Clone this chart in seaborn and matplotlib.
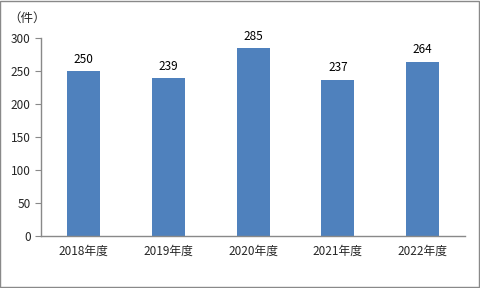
import matplotlib
matplotlib.use("Agg")
import matplotlib.pyplot as plt
import seaborn as sns
import pandas as pd
import numpy as np

categories = ["2018年度", "2019年度", "2020年度", "2021年度", "2022年度"]
values = [250, 239, 285, 237, 264]
yticks = [0, 50, 100, 150, 200, 250, 300]

sns.set_style("white")
plt.rcParams['font.family'] = ['Noto Sans CJK JP', 'DejaVu Sans']

df = pd.DataFrame({"cat": categories, "val": values})
fig = plt.figure(figsize=(4.8, 2.88), dpi=100)
ax = fig.add_axes([0.0854, 0.1806, 0.969 - 0.0854, 0.868 - 0.1806])
sns.barplot(data=df, x="cat", y="val", order=categories, color="#4F81BD",
            width=0.39, saturation=1, linewidth=0, ax=ax)
ax.set_xlim(-0.5, len(categories) - 0.5)
ax.set_ylim(0, 300)
ax.set_yticks(yticks)
ax.set_xlabel("")
ax.set_ylabel("")
for i, v in enumerate(values):
    ax.text(i, v + 8, str(v), ha="center", va="bottom", fontsize=8.5, color="black")
for s in ["top", "right"]:
    ax.spines[s].set_visible(False)
for s in ["left", "bottom"]:
    ax.spines[s].set_color("#898989")
    ax.spines[s].set_linewidth(1)
ax.set_xticks(np.arange(-0.5, len(categories) + 0.5, 1), minor=True)
ax.tick_params(axis="x", which="major", length=0, labelsize=8.5, pad=6)
ax.tick_params(axis="x", which="minor", length=4, color="#898989", direction="out")
ax.tick_params(axis="y", length=4, color="#898989", direction="out", labelsize=8.5, left=True)
fig.text(8 / 480, 1 - 18 / 288, "（件）", fontsize=9, va="center", ha="left")
border = plt.Rectangle((0.001, 0.002), 0.997, 0.995, transform=fig.transFigure,
                       fill=False, edgecolor="#898989", linewidth=1)
fig.patches.append(border)
fig.savefig("out.png", dpi=100)
